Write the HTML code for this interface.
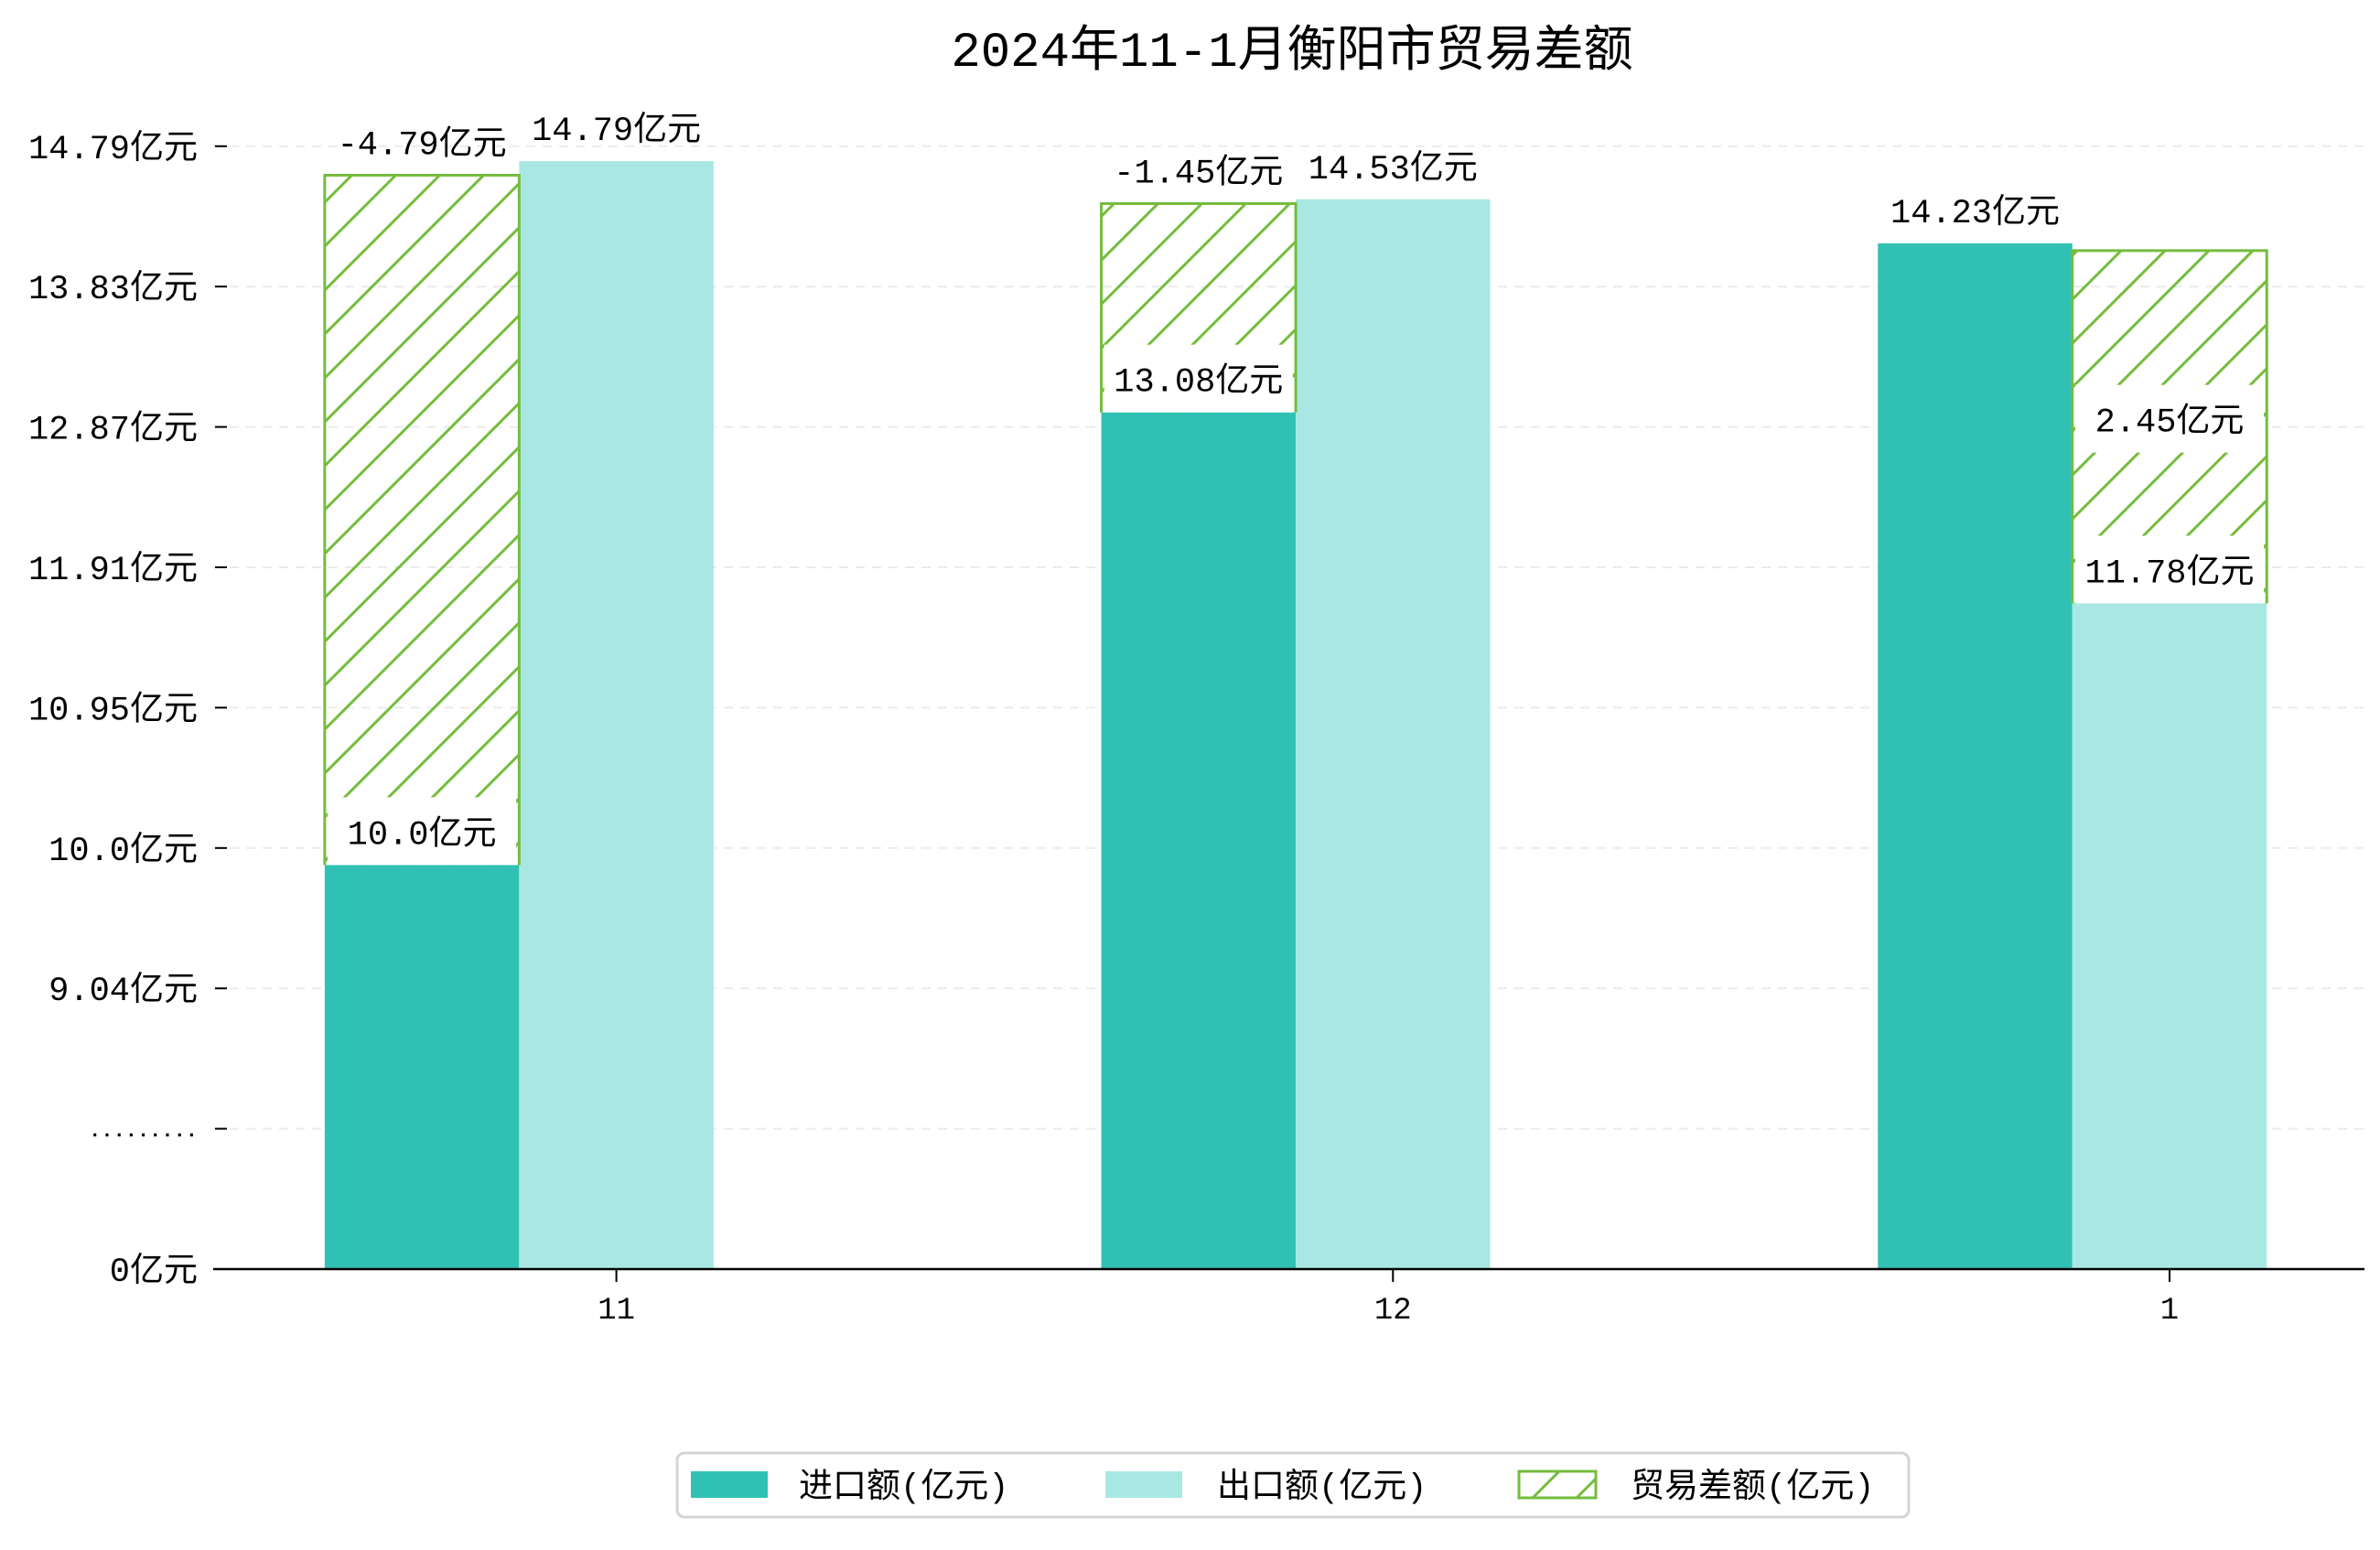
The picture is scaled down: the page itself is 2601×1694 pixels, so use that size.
<!DOCTYPE html>
<html><head><meta charset="utf-8"><style>
html,body{margin:0;padding:0;background:#fff;}
svg text{font-family:"Liberation Mono","Noto Sans CJK SC",monospace;}
</style></head><body>
<svg id="chart" width="2601" height="1689" viewBox="0 0 2601 1689" xmlns="http://www.w3.org/2000/svg">
<defs>
<pattern id="hatch" patternUnits="userSpaceOnUse" width="48" height="48">
<line x1="-4" y1="52" x2="52" y2="-4" stroke="#76BC3E" stroke-width="3"/>
<line x1="-28" y1="28" x2="28" y2="-28" stroke="#76BC3E" stroke-width="3"/>
<line x1="20" y1="76" x2="76" y2="20" stroke="#76BC3E" stroke-width="3"/>
</pattern>
</defs>
<text x="1412" y="72" text-anchor="middle" font-size="54">2024年11-1月衡阳市贸易差额</text>
<g id="grid"></g><g id="bars"></g><g id="labels"></g><g id="axes"></g>
<g>
<rect x="740" y="1588" width="1346" height="70" rx="8" fill="#fff" stroke="#d4d4d4" stroke-width="3"/>
<rect x="755" y="1608" width="84" height="29" fill="#31C1B4"/>
<text x="873" y="1636" font-size="37">进口额(亿元)</text>
<rect x="1208" y="1608" width="84" height="29" fill="#A9E8E2"/>
<text x="1330" y="1636" font-size="37">出口额(亿元)</text>
<rect x="1660" y="1608" width="84" height="29" fill="url(#hatch)" stroke="#76BC3E" stroke-width="3"/>
<text x="1782" y="1636" font-size="37">贸易差额(亿元)</text>
</g>
</svg>
<script>
const categories = ["11", "12", "1"];
const importValues = [10.0, 13.08, 14.23];
const exportValues = [14.79, 14.53, 11.78];
const balanceValues = [-4.79, -1.45, 2.45];
const yTickLabels = ["0亿元", "·········", "9.04亿元", "10.0亿元", "10.95亿元", "11.91亿元", "12.87亿元", "13.83亿元", "14.79亿元"];

const NS = "http://www.w3.org/2000/svg";
const baseY = 1387, plotLeft = 233, plotRight = 2584;
const yOffset = 7.25, yK = 160.6;
function yScale(v){ return baseY - (v - yOffset) * yK; }
const barW = 212.5;
function xCenter(i){ return 673.6 + 848.7 * i; }
function fmt(v){ return (Number.isInteger(v) ? v.toFixed(1) : String(v)) + '亿元'; }
function mk(tag, attrs, parent){ const e = document.createElementNS(NS, tag); for (const k in attrs) e.setAttribute(k, attrs[k]); parent.appendChild(e); return e; }

const grid = document.getElementById('grid');
const axes = document.getElementById('axes');
const bars = document.getElementById('bars');
const labels = document.getElementById('labels');

yTickLabels.forEach((lab, i) => {
  const y = baseY - i * 153.4;
  if (i > 0) {
    const g = mk('line', {x1: plotLeft, x2: plotRight, y1: y, y2: y, stroke: '#ebebeb', 'stroke-width': 2, 'stroke-dasharray': '10,8'}, grid);
    
    
  }
  const t = mk('line', {x1: 235, x2: 248, y1: y, y2: y, stroke: '#000', 'stroke-width': 2}, axes);
  
  
  const isDots = lab.indexOf('亿') < 0;
  const tx = mk('text', {x: 216, y: y + 13, 'text-anchor': 'end', 'font-size': isDots ? 22 : 37, 'font-weight': isDots ? 'bold' : 'normal'}, axes);
  tx.textContent = lab;
  
  
});
const ax = mk('line', {x1: plotLeft, x2: plotRight, y1: baseY, y2: baseY, stroke: '#000', 'stroke-width': 2.5}, axes);



function addLabel(txt, cx, y, boxed, name){
  if (boxed) {
    const r = mk('rect', {x: cx - 103, y: y - 38, width: 206, height: 74, fill: '#fff'}, labels);
    
    
  }
  const t = mk('text', {x: cx, y: y + 13, 'text-anchor': 'middle', 'font-size': 37}, labels);
  t.textContent = txt;
  
  
}

categories.forEach((c, i) => {
  const xc = xCenter(i);
  const impX = xc - 1.5 * barW, expX = xc - 0.5 * barW;
  const bi = mk('rect', {x: impX, y: yScale(importValues[i]), width: barW, height: baseY - yScale(importValues[i]), fill: '#31C1B4'}, bars);
  
  
  const be = mk('rect', {x: expX, y: yScale(exportValues[i]), width: barW, height: baseY - yScale(exportValues[i]), fill: '#A9E8E2'}, bars);
  
  
  const lowIsImport = importValues[i] <= exportValues[i];
  const low = Math.min(importValues[i], exportValues[i]);
  const hx = lowIsImport ? impX : expX;
  const yb = yScale(low), yt = yScale(low + Math.abs(balanceValues[i]) * 0.98);
  const hb = mk('rect', {x: hx, y: yt, width: barW, height: yb - yt, fill: 'url(#hatch)'}, bars);
  
  
  const hbo = mk('path', {d: `M${hx},${yb} L${hx},${yt} L${hx + barW},${yt} L${hx + barW},${yb}`, fill: 'none', stroke: '#76BC3E', 'stroke-width': 3}, bars);
  
  
  const hcx = hx + barW / 2;
  addLabel(fmt(importValues[i]), impX + barW / 2, yScale(importValues[i]) - 36, lowIsImport, 'import-value-label');
  addLabel(fmt(exportValues[i]), expX + barW / 2, yScale(exportValues[i]) - 36, !lowIsImport, 'export-value-label');
  if (balanceValues[i] < 0) addLabel(fmt(balanceValues[i]), hcx, yt - 36, false, 'balance-value-label');
  else addLabel(fmt(balanceValues[i]), hcx, (yt + yb) / 2 - 8, true, 'balance-value-label');
  const tk = mk('line', {x1: xc, x2: xc, y1: baseY, y2: baseY + 14, stroke: '#000', 'stroke-width': 2}, axes);
  
  
  const tl = mk('text', {x: xc, y: 1441, 'text-anchor': 'middle', 'font-size': 34}, axes);
  tl.textContent = c;
  
  
});
</script>
</body></html>
